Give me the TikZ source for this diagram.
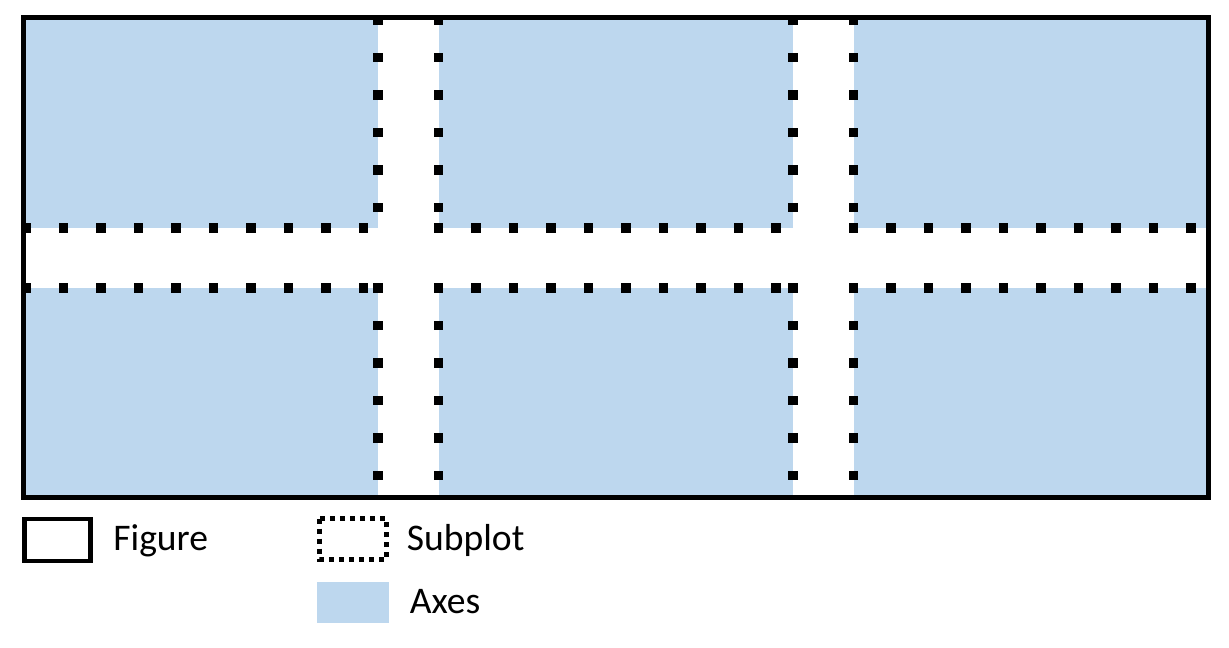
\documentclass[tikz,border=0pt]{standalone}
\usepackage{fontspec}
\setmainfont{Carlito}
\definecolor{axblue}{RGB}{189,215,238}
\begin{document}
\begin{tikzpicture}[x=0.5pt,y=-0.5pt,
  axesfill/.style={fill=axblue},
  figborder/.style={draw=black,line width=2.5pt},
  lbl/.style={anchor=base west,inner sep=0pt,font=\fontsize{18.8}{22}\selectfont}]
\useasboundingbox (0,0) rectangle (1229,647);
% axes
\fill[axesfill] (23.5,17.5) rectangle (378,228);
\fill[axesfill] (439,17.5) rectangle (793,228);
\fill[axesfill] (854,17.5) rectangle (1208,228);
\fill[axesfill] (23.5,288) rectangle (378,497.5);
\fill[axesfill] (439,288) rectangle (793,497.5);
\fill[axesfill] (854,288) rectangle (1208,497.5);
% figure border
\draw[figborder] (23.5,17.5) rectangle (1208,497.5);
% subplot dots, horizontal
\foreach \x in {26,438.7,853.7}
  \foreach \k in {0,...,9}
    \foreach \y in {228,288}
      \fill ({\x+37.5*\k-4.75},{\y-4.75}) rectangle ++(9.5,9.5);
% subplot dots, vertical
\foreach \x in {378,438.7,793,853.7}
  \foreach \k in {0,...,5}
    \foreach \y in {20,288}
      \fill ({\x-4.75},{\y+37.5*\k-4.75}) rectangle ++(9.5,9.5);
% legend
\draw[line width=2.35pt] (24.5,519) rectangle (90.5,561);
\node[lbl] (figlbl) at (113,550.7) {Figure};
\draw[line width=2.4pt,dash pattern=on 2.5pt off 2.5pt] (319.8,518.6) rectangle (386.6,559.4);
\node[lbl] (sublbl) at (406.5,550) {Subplot};
\fill[axesfill] (317.3,581.7) rectangle (389,622.7);
\node[lbl] (axlbl) at (409.5,613.3) {Axes};
\end{tikzpicture}
\end{document}
